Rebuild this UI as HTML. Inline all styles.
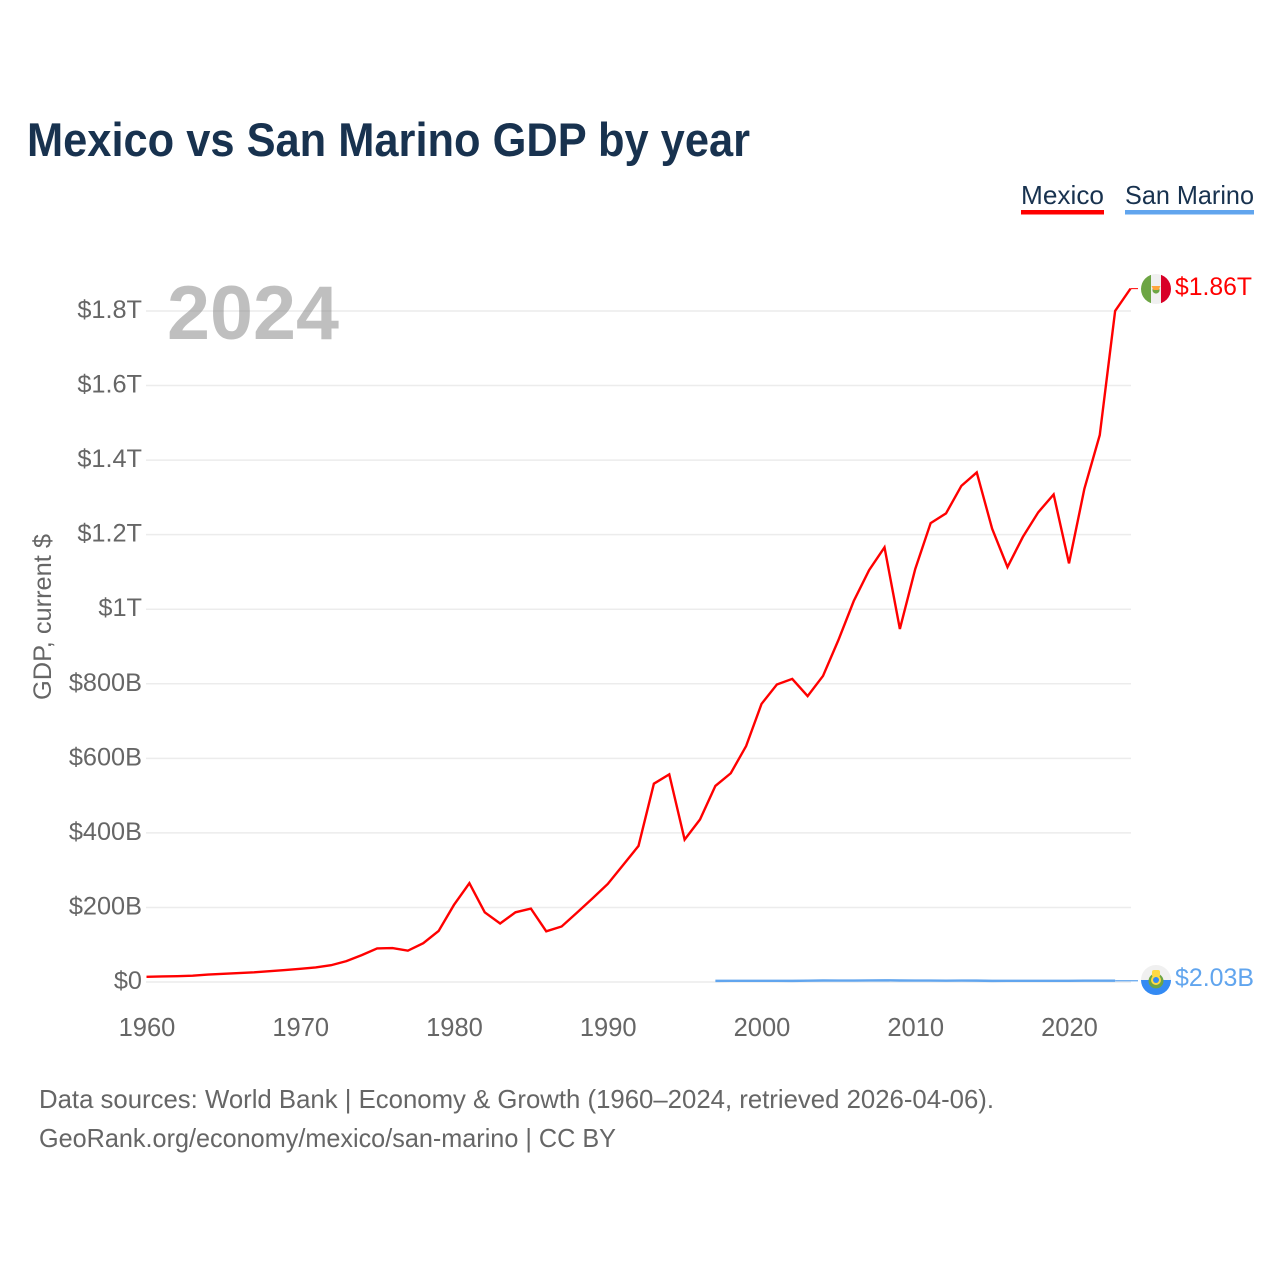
<!DOCTYPE html>
<html lang="en">
<head>
<meta charset="utf-8">
<title>Mexico vs San Marino GDP by year</title>
<style>
html,body{margin:0;padding:0;background:#fff;width:1280px;height:1280px;overflow:hidden}
svg{display:block}
text{font-family:"Liberation Sans",sans-serif}
</style>
</head>
<body>
<svg id="chart" width="1280" height="1280" viewBox="0 0 1280 1280" xmlns="http://www.w3.org/2000/svg">
  <defs>
    <clipPath id="clip-mx"><circle cx="1156" cy="289" r="15"/></clipPath>
    <clipPath id="clip-sm"><circle cx="1156" cy="980" r="15"/></clipPath>
  </defs>
  <rect width="1280" height="1280" fill="#fff"/>
  <text x="27" y="156" font-size="47" font-weight="700" fill="#18324f" textLength="723" lengthAdjust="spacingAndGlyphs">Mexico vs San Marino GDP by year</text>

  <g>
    <g>
      <text x="1021" y="204" font-size="26" fill="#18324f" textLength="83" lengthAdjust="spacingAndGlyphs">Mexico</text>
      <rect x="1021" y="210" width="83" height="4.5" fill="#ff0000"/>
    </g>
    <g>
      <text x="1125" y="204" font-size="26" fill="#18324f" textLength="129" lengthAdjust="spacingAndGlyphs">San Marino</text>
      <rect x="1125" y="210" width="129" height="4.5" fill="#61a5ee"/>
    </g>
  </g>

  <g id="grid"></g>
  <text x="167" y="339" font-size="76" font-weight="700" fill="#808080" fill-opacity="0.5" textLength="172" lengthAdjust="spacingAndGlyphs">2024</text>
  <g id="yticks"></g>
  <g id="xticks"></g>
  <text transform="translate(51,700) rotate(-90)" x="0" y="0" font-size="25" fill="#666" textLength="166" lengthAdjust="spacingAndGlyphs">GDP, current $</text>
  <g id="series"></g>

  <g clip-path="url(#clip-mx)">
    <rect x="1141" y="274" width="10" height="30" fill="#6da544"/>
    <rect x="1151" y="274" width="10" height="30" fill="#f0f0f0"/>
    <rect x="1161" y="274" width="10" height="30" fill="#d80027"/>
    <circle cx="1156" cy="290" r="3.6" fill="#6da544"/>
    <path d="M1151.5 286h9l-2 4h-5z" fill="#ffa63c"/>
  </g>
  <text x="1175" y="295" font-size="25" fill="#ff0000" textLength="77" lengthAdjust="spacingAndGlyphs">$1.86T</text>

  <g clip-path="url(#clip-sm)">
    <rect x="1141" y="965" width="30" height="15" fill="#f0f0f0"/>
    <rect x="1141" y="980" width="30" height="15" fill="#338af3"/>
    <circle cx="1156" cy="981" r="7.5" fill="#6da544"/>
    <rect x="1152" y="970" width="8" height="7" rx="2" fill="#ffda44"/>
    <circle cx="1156" cy="980" r="5" fill="#ffda44"/>
    <circle cx="1156" cy="980" r="3" fill="#338af3"/>
  </g>
  <text x="1175" y="986" font-size="25" fill="#61a5ee" textLength="79" lengthAdjust="spacingAndGlyphs">$2.03B</text>

  <g>
    <text x="39" y="1108" font-size="26" fill="#666" textLength="955" lengthAdjust="spacingAndGlyphs">Data sources: World Bank | Economy &amp; Growth (1960–2024, retrieved 2026-04-06).</text>
    <text x="39" y="1147" font-size="26" fill="#666" textLength="577" lengthAdjust="spacingAndGlyphs">GeoRank.org/economy/mexico/san-marino | CC BY</text>
  </g>
</svg>
<script>
const mexicoYears = [1960,1961,1962,1963,1964,1965,1966,1967,1968,1969,1970,1971,1972,1973,1974,1975,1976,1977,1978,1979,1980,1981,1982,1983,1984,1985,1986,1987,1988,1989,1990,1991,1992,1993,1994,1995,1996,1997,1998,1999,2000,2001,2002,2003,2004,2005,2006,2007,2008,2009,2010,2011,2012,2013,2014,2015,2016,2017,2018,2019,2020,2021,2022,2023,2024];
const mexicoValues = [14,14.8,15.6,17,20,22,24,26,29,32,35.5,39,45,56,72,90,91,84,104,137,207,265,187,157,187,197,136,149,186,224,263,314,365,532,557,382,436,526,560,633,746,798,813,767,821,917,1022,1105,1166,947,1108,1231,1257,1331,1367,1216,1113,1194,1260,1308,1123,1323,1467,1800,1860];
const sanMarinoYears = [1997,1998,1999,2000,2001,2002,2003,2004,2005,2006,2007,2008,2009,2010,2011,2012,2013,2014,2015,2016,2017,2018,2019,2020,2021,2022,2023];
const sanMarinoValues = [3.0,3.1,3.1,3.1,3.2,3.0,3.4,4.0,3.9,3.9,4.1,4.6,4.0,3.8,3.9,3.5,3.8,3.7,3.0,3.2,3.2,3.3,3.3,3.1,3.6,3.6,3.4];
const yTickValues = [0,200,400,600,800,1000,1200,1400,1600,1800];
const yTickLabels = ['$0','$200B','$400B','$600B','$800B','$1T','$1.2T','$1.4T','$1.6T','$1.8T'];
const xTickYears = [1960,1970,1980,1990,2000,2010,2020];
const NS = 'http://www.w3.org/2000/svg';
const xScale = year => 146.5 + (year - 1960) * (1130.5 - 146.5) / 64;
const yScale = billions => 982 - billions * (982 - 311) / 1800;
const LEFT = xScale(1960) - 0.5;
const RIGHT = xScale(2024) + 0.5;
const FLAG_EDGE = 1138;

function make(tag, attrs, parent, content) {
  const el = document.createElementNS(NS, tag);
  for (const k in attrs) el.setAttribute(k, attrs[k]);
  if (content !== undefined) el.textContent = content;
  parent.appendChild(el);
  return el;
}

const grid = document.getElementById('grid');
const yticks = document.getElementById('yticks');
yTickValues.forEach((v, i) => {
  const line = make('line', {x1: LEFT, x2: RIGHT, y1: yScale(v), y2: yScale(v), stroke: '#ececec', 'stroke-width': 1.5}, grid);
  
  
  const label = make('text', {x: 142, y: yScale(v) + 7, 'text-anchor': 'end', 'font-size': 25.3, fill: '#666'}, yticks, yTickLabels[i]);
  
  
});

const xticks = document.getElementById('xticks');
xTickYears.forEach(year => {
  const label = make('text', {x: xScale(year) + 0.5, y: 1036, 'text-anchor': 'middle', 'font-size': 25.5, fill: '#666'}, xticks, String(year));
  
  
});

function linePoints(years, values) {
  return years.map((year, i) => xScale(year).toFixed(2) + ',' + yScale(values[i]).toFixed(2)).join(' ');
}

const series = document.getElementById('series');

const mexicoLine = make('polyline', {points: linePoints(mexicoYears, mexicoValues), fill: 'none', stroke: '#ff0000', 'stroke-width': 2.4, 'stroke-linejoin': 'miter'}, series);


const mexicoEnd = mexicoValues[mexicoValues.length - 1];
const mexicoLink = make('line', {x1: xScale(mexicoYears[mexicoYears.length - 1]), x2: FLAG_EDGE, y1: yScale(mexicoEnd), y2: yScale(mexicoEnd), stroke: '#ff0000', 'stroke-width': 1}, series);



const sanMarinoLine = make('polyline', {points: linePoints(sanMarinoYears, sanMarinoValues), fill: 'none', stroke: '#61a5ee', 'stroke-width': 2.4}, series);


const sanMarinoEnd = sanMarinoValues[sanMarinoValues.length - 1];
const sanMarinoLink = make('line', {x1: xScale(sanMarinoYears[sanMarinoYears.length - 1]), x2: FLAG_EDGE, y1: yScale(sanMarinoEnd), y2: yScale(sanMarinoEnd), stroke: '#61a5ee', 'stroke-width': 1.2}, series);


</script>
</body>
</html>
